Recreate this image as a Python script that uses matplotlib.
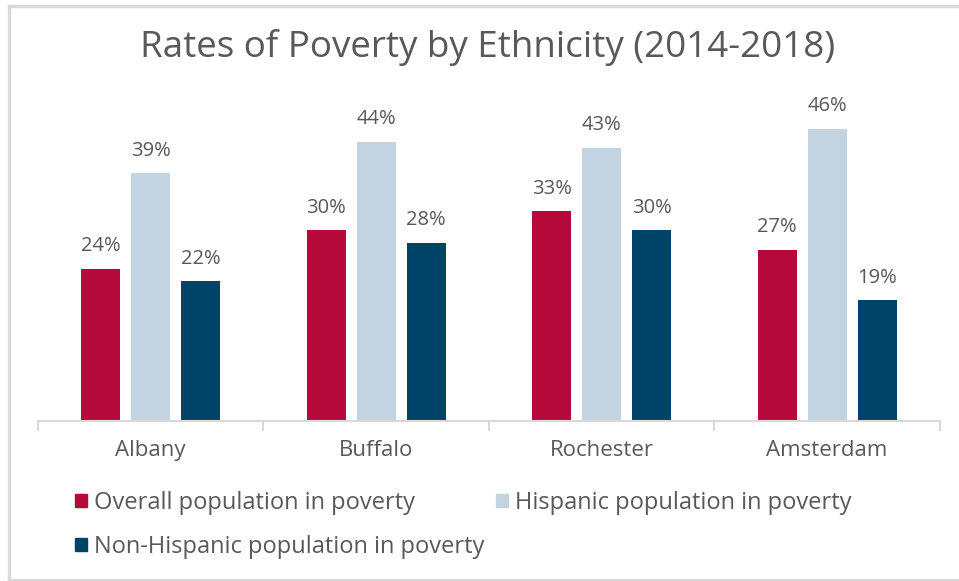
import matplotlib

matplotlib.use("Agg")

import matplotlib.pyplot as plt
import numpy as np
from matplotlib.lines import Line2D
from matplotlib.patches import Patch

CITIES = ["Albany", "Buffalo", "Rochester", "Amsterdam"]
OVERALL = [24, 30, 33, 27]
HISPANIC = [39, 44, 43, 46]
NON_HISPANIC = [22, 28, 30, 19]

SERIES = [
    ("Overall population in poverty", OVERALL, "#B5093A"),
    ("Hispanic population in poverty", HISPANIC, "#C2D4E2"),
    ("Non-Hispanic population in poverty", NON_HISPANIC, "#004368"),
]

TEXT = "#595959"
GRID = "#D9D9D9"

plt.rcParams["font.family"] = ["Open Sans", "DejaVu Sans"]

fig = plt.figure(figsize=(9.59, 5.81), dpi=100)
ax = fig.add_axes([0.0396, 0.2754, 0.9404, 0.5466])

x = np.arange(len(CITIES))
width = 0.173
step = 0.222
for k, (name, vals, color) in enumerate(SERIES):
    pos = x + (k - 1) * step
    ax.bar(pos, vals, width=width, color=color, label=name)
    for p, v in zip(pos, vals):
        ax.text(p, v + 2.0, f"{v}%", ha="center", va="bottom", fontsize=14.5, color=TEXT)

ax.set_xlim(-0.5, len(CITIES) - 0.5)
ax.set_ylim(0, 50)
ax.set_yticks([])
for side in ("top", "right", "left"):
    ax.spines[side].set_visible(False)
ax.spines["bottom"].set_color(GRID)
ax.spines["bottom"].set_linewidth(1.5)
ax.set_xticks(x)
ax.set_xticklabels(CITIES, fontsize=16, color=TEXT)
ax.tick_params(axis="x", length=0, pad=14)
# boundary ticks between categories
ax.set_xticks(np.arange(len(CITIES) + 1) - 0.5, minor=True)
ax.tick_params(axis="x", which="minor", length=7, width=1.5, color=GRID)

fig.text(0.508, 0.918, "Rates of Poverty by Ethnicity (2014-2018)", ha="center", va="center",
         fontsize=26.5, color=TEXT)

handles = [Patch(color=c) for _, _, c in SERIES]
labels = [n for n, _, _ in SERIES]
order = [0, 2, 1]
fig.legend([handles[i] for i in order], [labels[i] for i in order], ncol=2,
           loc="upper left", bbox_to_anchor=(0.078, 0.155), frameon=False, fontsize=17,
           labelcolor=TEXT, handlelength=0.5, handleheight=0.5, handletextpad=0.3,
           columnspacing=0.5, labelspacing=0.85, borderaxespad=0, borderpad=0)

# light border around the chart
fig.add_artist(Line2D([0.0094, 1.0], [0.9897, 0.9897], color=GRID, lw=2.5, transform=fig.transFigure))
fig.add_artist(Line2D([0.0094, 0.0094], [0.0, 0.9897], color=GRID, lw=2.5, transform=fig.transFigure))
fig.add_artist(Line2D([0.0094, 1.0], [0.002, 0.002], color=GRID, lw=1.5, transform=fig.transFigure))

fig.savefig("out.png", dpi=100, facecolor="white")
